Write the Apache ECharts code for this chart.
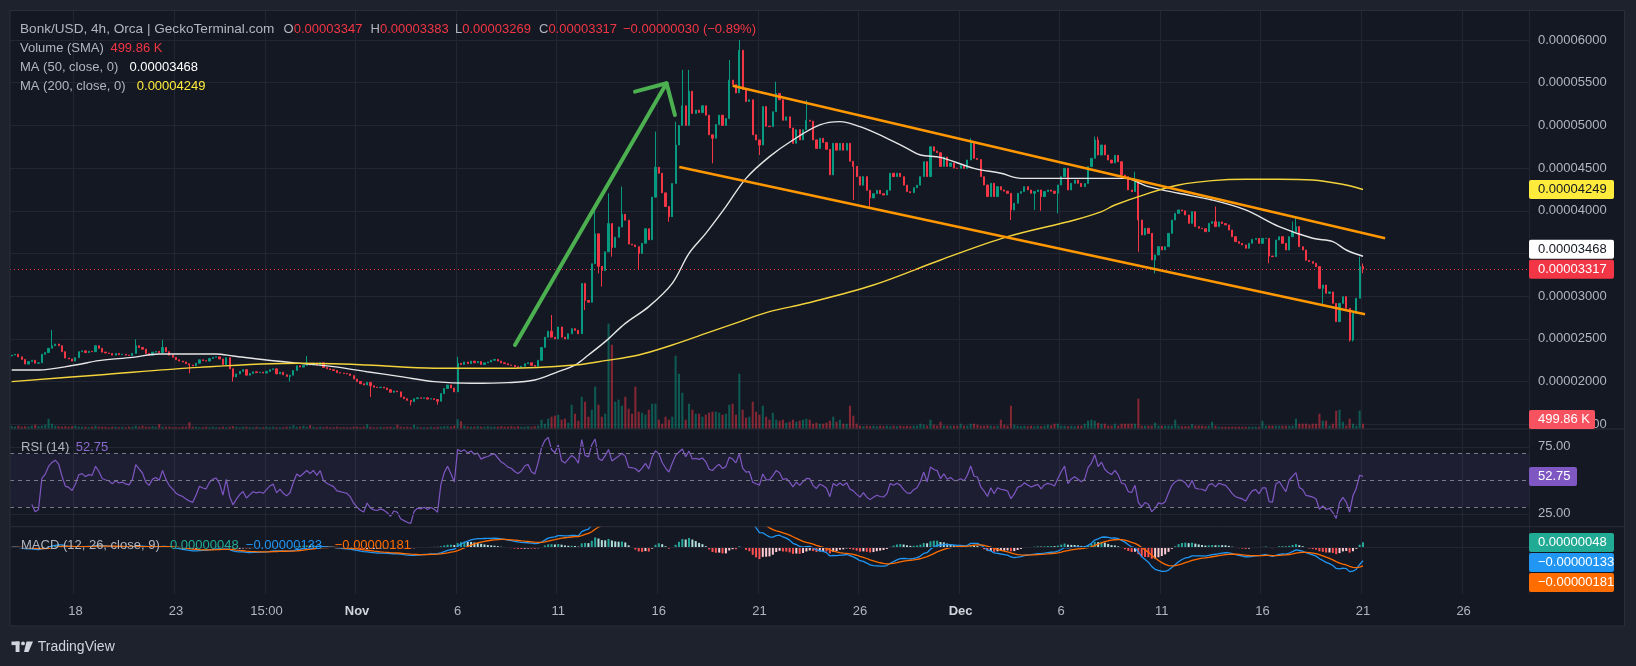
<!DOCTYPE html>
<html>
<head>
<meta charset="utf-8">
<script src="https://cdn.jsdelivr.net/npm/echarts@6/dist/echarts.min.js"></script>
<style>
html,body{margin:0;padding:0;background:#141823;}
#main{width:1636px;height:666px;}
</style>
</head>
<body>
<div id="main"></div>
<script>
// all prices in units of 1e-8 USD, one value per 4h candle
const firstOpen = 2300;
const closes = [
  2311,2320,2290,2260,2205,2235,2250,2215,2220,2320,2340,2390,2420,2440,2420,2350,2275,2265,2240,2280,
  2350,2360,2340,2355,2350,2420,2390,2345,2335,2330,2310,2330,2315,2320,2310,2305,2330,2420,2400,2380,
  2330,2310,2345,2355,2340,2400,2350,2310,2285,2255,2240,2230,2210,2195,2185,2215,2255,2245,2240,2270,
  2285,2290,2265,2200,2280,2150,2055,2090,2120,2140,2075,2095,2115,2105,2110,2100,2120,2140,2150,2090,
  2110,2080,2060,2075,2130,2185,2170,2190,2210,2195,2215,2190,2220,2165,2150,2140,2130,2105,2100,2095,
  2090,2070,2030,2000,1975,1960,1990,1950,1935,1930,1935,1925,1905,1875,1890,1880,1820,1800,1780,1765,
  1800,1810,1805,1810,1795,1800,1790,1770,1860,1920,1960,1925,1880,2215,2200,2230,2210,2240,2220,2235,
  2200,2220,2230,2250,2260,2240,2220,2210,2195,2190,2175,2165,2180,2210,2220,2190,2180,2250,2400,2520,
  2590,2520,2500,2640,2520,2500,2560,2620,2600,2560,3150,2950,2930,3380,3730,3350,3300,3520,3850,3570,
  3690,3810,3960,3890,3610,3600,3580,3500,3620,3790,3660,4160,4510,4440,4210,4050,3930,4320,4770,5000,
  5230,5000,5400,5140,5180,5150,5230,5120,4890,4850,5010,5120,5000,5080,5530,5480,5380,5880,5420,5280,
  5300,4890,4830,4770,5220,4990,4985,5160,5375,5300,5060,5100,4970,4790,4950,4830,4950,5060,5050,4830,
  4730,4850,4800,4720,4420,4790,4710,4790,4710,4790,4580,4520,4400,4300,4400,4240,4150,4200,4240,4200,
  4185,4240,4440,4400,4440,4400,4300,4224,4212,4270,4300,4400,4575,4400,4750,4700,4680,4520,4630,4520,
  4560,4500,4497,4530,4497,4595,4790,4614,4600,4400,4302,4166,4322,4166,4283,4244,4230,4205,4010,4088,
  4205,4225,4283,4244,4205,4225,4244,4166,4225,4244,4230,4205,4302,4400,4497,4244,4322,4360,4322,4283,
  4320,4517,4614,4829,4653,4770,4653,4595,4560,4650,4575,4419,4400,4244,4224,4341,3892,3717,3795,3736,
  3424,3483,3580,3541,3580,3736,3892,3970,4010,4000,3951,3853,3990,3815,3795,3790,3756,3853,3873,3815,
  3870,3850,3835,3775,3697,3639,3619,3600,3561,3619,3666,3677,3619,3677,3677,3470,3463,3658,3697,3619,
  3541,3697,3756,3815,3580,3541,3420,3405,3385,3346,3092,3131,3034,3050,2916,2702,2916,2995,2858,2487,
  2800,2975,3347,3317
];
// notable wicks: [candle index, price]
const highMarks = [[12,2605],[37,2495],[45,2490],[88,2300],[133,2292],[161,2780],[174,4010],[178,4205],
  [182,4283],[192,4927],[198,5044],[200,5650],[202,5650],[214,5766],[217,6000],[228,5512],[237,5297],
  [286,4849],[323,4870],[324,4868],[335,4458],[359,4049],[382,3873],[383,3931],[402,3463],[403,3383]];
const lowMarks = [[53,2097],[66,2000],[83,2000],[107,1820],[119,1720],[127,1730],[171,2838],[175,3268],
  [176,3112],[179,3463],[187,3307],[196,3872],[209,4556],[223,4653],[251,4127],[256,4029],[298,3892],
  [305,4010],[307,4000],[312,3970],[336,3520],[341,3268],[375,3385],[391,2897],[399,2470],[400,2470],[403,3269]];
// volume in K
const volumes = [
  250,200,300,200,250,200,300,400,250,300,400,1000,500,300,250,200,250,200,250,300,
  200,200,200,150,200,300,200,200,200,150,200,200,150,200,150,200,200,300,200,300,
  200,200,250,200,450,200,200,200,150,150,150,200,200,650,200,200,150,150,200,150,
  200,150,150,200,150,200,250,200,150,200,200,150,150,200,150,150,200,150,200,150,
  150,150,200,200,350,200,200,300,200,350,200,150,200,150,200,150,150,200,150,150,
  150,150,200,200,150,200,450,200,150,150,200,150,200,200,150,400,200,150,200,150,
  400,200,150,150,150,200,150,200,200,250,250,200,300,950,750,300,200,200,200,250,
  200,200,250,200,200,200,250,200,200,250,200,250,200,200,250,200,250,300,900,500,
  1000,1200,1300,1400,900,1000,600,2400,1500,800,3200,2700,1200,1900,4200,2400,1200,1500,10500,8400,
  2700,2900,2300,3200,2000,1500,4200,1700,1600,1400,1900,2500,2500,900,500,1200,900,1200,7300,5500,
  3600,900,2500,1900,1500,1500,1200,1400,1600,1700,1700,1600,1400,1500,2400,2500,1400,5500,1900,1100,
  1200,2700,1700,1400,2300,1200,900,1600,900,800,900,600,700,900,700,800,900,1000,900,500,
  600,500,500,600,800,1200,700,900,500,500,2300,1300,500,300,250,300,250,300,250,300,
  250,300,250,300,250,300,250,300,250,300,300,500,400,300,900,400,300,700,300,300,
  300,300,300,500,300,300,500,500,400,300,300,350,300,250,300,900,400,300,2300,400,
  300,250,300,250,300,250,300,250,300,400,350,500,500,300,300,250,300,250,300,300,
  500,800,900,800,600,500,500,300,300,500,300,500,500,500,500,500,3000,300,300,300,
  300,600,300,300,300,300,300,900,300,250,250,250,450,300,300,300,250,300,700,300,
  200,200,200,200,200,200,200,200,200,200,200,200,200,800,300,300,300,300,300,300,
  300,300,300,1000,500,500,500,400,500,500,1500,800,800,300,500,1800,1900,700,300,1000,
  500,300,1800,500
];
// moving averages: candle index and value
const ma50Idx = [0,8,19,26,36,44,61,66,76,86,96,106,116,126,137,148,156,163,168,172,177,183,190,197,202,207,213,219,226,233,241,247,253,260,267,271,277,287,295,301,312,319,332,339,348,358,368,378,388,394,398,403];
const ma50Val = [2136,2136,2194,2245,2284,2323,2323,2300,2253,2214,2175,2116,2058,2000,1980,1988,2019,2117,2194,2312,2468,2682,2878,3151,3502,3736,4049,4380,4634,4829,5005,5044,4985,4868,4731,4653,4626,4497,4439,4380,4380,4380,4380,4283,4205,4127,4010,3814,3678,3639,3541,3468];
const ma200Idx = [0,26,56,86,106,126,148,168,177,187,197,207,217,226,237,257,277,297,317,325,329,339,348,358,368,378,388,398,403];
const ma200Val = [2000,2078,2167,2214,2194,2156,2156,2194,2245,2312,2429,2565,2700,2819,2917,3131,3424,3697,3892,3990,4068,4205,4302,4353,4369,4369,4361,4302,4249];
// user drawings: [candle index, price]
const channelTop = [[215.0,5465],[409.6,3678]];
const channelBottom = [[199.1,4513],[403.6,2788]];
const arrowShaft = [[150.1,2428],[195.3,5493]];
const arrowHead = [[185.9,5395],[195.3,5493],[197.8,5122]];
// time axis
const tickIdx = [19,49,76,103,133,163,193,223,253,283,313,343,373,403,433];
const tickText = ['18','23','15:00','Nov','6','11','16','21','26','Dec','6','11','16','21','26'];
const slotCount = 453;
// legend values from the chart header
const lastVolSma = 499.86;
const lastRsi = 52.75;
const lastMacd = [48, -133, -181];

const FONT = '"Liberation Sans", Arial, sans-serif';
const gridColor = '#232632';
const textGrey = '#b2b5be';
const upColor = '#089981', downColor = '#f23645';
const L = 10, R = 107;

const cats = [];
for (let i = 0; i < slotCount; i++) cats.push(String(i));
const opens = closes.map((c, i) => i === 0 ? firstOpen : closes[i - 1]);
const highs = closes.map((c, i) => Math.max(c, opens[i]));
const lows = closes.map((c, i) => Math.min(c, opens[i]));
highMarks.forEach(([i, v]) => { highs[i] = Math.max(highs[i], v); });
lowMarks.forEach(([i, v]) => { lows[i] = Math.min(lows[i], v); });
const candles = closes.map((c, i) => [opens[i], c, lows[i], highs[i]]);
const volData = volumes.map((v, i) => ({
  value: v,
  itemStyle: { color: closes[i] >= opens[i] ? 'rgba(8,153,129,0.5)' : 'rgba(242,54,69,0.5)' }
}));

function rsi(src, n) {
  const out = [];
  let ag = 0, al = 0;
  for (let i = 0; i < src.length; i++) {
    if (i === 0) { out.push(null); continue; }
    const d = src[i] - src[i - 1];
    const k = Math.min(i, n);
    ag = (ag * (k - 1) + Math.max(d, 0)) / k;
    al = (al * (k - 1) + Math.max(-d, 0)) / k;
    out.push(i < 6 ? null : (al === 0 ? 100 : 100 - 100 / (1 + ag / al)));
  }
  return out;
}
function ema(src, n) {
  const k = 2 / (n + 1);
  let e = src[0];
  return src.map((v, i) => (e = i === 0 ? v : v * k + e * (1 - k)));
}
const rsiData = rsi(closes, 14);
const e12 = ema(closes, 12), e26 = ema(closes, 26);
const macd = e12.map((v, i) => v - e26[i]);
const signal = ema(macd, 9);
const hist = macd.map((v, i) => v - signal[i]);
const histData = hist.map((h, i) => {
  const p = i > 0 ? hist[i - 1] : h;
  let c;
  if (h >= 0) c = p < h ? '#26a69a' : '#b2dfdb';
  else c = p < h ? '#ffcdd2' : '#ff5252';
  return { value: h, itemStyle: { color: c } };
});

const pairs = (idx, val) => idx.map((x, i) => [x, val[i]]);
const fmtPrice = v => (v / 1e8).toFixed(8);

const hiddenCat = g => ({ type: 'category', gridIndex: g, data: cats, show: false, boundaryGap: true });

const option = {
  backgroundColor: '#141823',
  animation: false,
  grid: [
    { left: L, right: R, top: 40, height: 384.3, outerBoundsMode: 'none' },
    { left: L, right: R, top: 228.7, height: 200, outerBoundsMode: 'none' },
    { left: L, right: R, top: 413.3, height: 134, outerBoundsMode: 'none' },
    { left: L, right: R, top: 526.7, height: 67.6, outerBoundsMode: 'none' },
    { left: L, right: R, top: 10.7, height: 583.6, outerBoundsMode: 'none' }
  ],
  xAxis: [
    hiddenCat(0),
    { type: 'value', gridIndex: 0, min: -0.5, max: slotCount - 0.5, show: false },
    hiddenCat(1),
    hiddenCat(2),
    hiddenCat(3),
    {
      type: 'category', gridIndex: 4, data: cats, boundaryGap: true,
      axisLine: { show: false }, axisTick: { show: false },
      splitLine: { show: true, interval: idx => tickIdx.includes(idx), lineStyle: { color: gridColor, width: 1 } },
      axisLabel: {
        interval: idx => tickIdx.includes(idx),
        margin: 11, color: textGrey, fontSize: 13, fontFamily: FONT,
        formatter: (v, idx) => {
          const t = tickText[tickIdx.indexOf(Number(v))];
          return (t === 'Nov' || t === 'Dec') ? '{m|' + t + '}' : t;
        },
        rich: { m: { fontWeight: 'bold', color: '#d1d4dc', fontSize: 13, fontFamily: FONT } }
      }
    }
  ],
  yAxis: [
    {
      type: 'value', gridIndex: 0, position: 'right', min: 1500, max: 6000, interval: 500,
      axisLine: { show: false }, axisTick: { show: false },
      splitLine: { lineStyle: { color: gridColor, width: 1 } },
      axisLabel: { margin: 9, color: textGrey, fontSize: 13, fontFamily: FONT, formatter: fmtPrice }
    },
    { type: 'value', gridIndex: 1, min: 0, max: 20000, show: false },
    {
      type: 'value', gridIndex: 2, position: 'right', min: 0, max: 100, interval: 25,
      axisLine: { show: false }, axisTick: { show: false }, splitLine: { show: false },
      axisLabel: { margin: 9, color: textGrey, fontSize: 13, fontFamily: FONT,
        formatter: v => (v === 25 || v === 75) ? v.toFixed(2) : '' }
    },
    { type: 'value', gridIndex: 3, min: -470, max: 206, show: false },
    { type: 'value', gridIndex: 4, show: false }
  ],
  series: [
    {
      name: 'volume', type: 'bar', xAxisIndex: 2, yAxisIndex: 1, data: volData,
      barWidth: '62%', z: 1
    },
    {
      name: 'price', type: 'candlestick', xAxisIndex: 0, yAxisIndex: 0, data: candles,
      barWidth: 1.7, z: 3,
      itemStyle: { color: upColor, color0: downColor, borderColor: upColor, borderColor0: downColor, borderWidth: 1 },
      markLine: {
        silent: true, symbol: ['none', 'none'], label: { show: false },
        lineStyle: { color: downColor, type: [1, 3], width: 1 },
        data: [{ yAxis: closes[closes.length - 1] }]
      }
    },
    {
      name: 'MA50', type: 'line', xAxisIndex: 1, yAxisIndex: 0, data: pairs(ma50Idx, ma50Val),
      smooth: 0.35, symbol: 'none', z: 4, lineStyle: { color: '#e6e6e6', width: 1.4 }
    },
    {
      name: 'MA200', type: 'line', xAxisIndex: 1, yAxisIndex: 0, data: pairs(ma200Idx, ma200Val),
      smooth: 0.35, symbol: 'none', z: 4, lineStyle: { color: '#f3d33b', width: 1.4 }
    },
    {
      type: 'line', xAxisIndex: 1, yAxisIndex: 0, data: channelTop, symbol: 'none', z: 6,
      lineStyle: { color: '#ff9800', width: 2.5 }
    },
    {
      type: 'line', xAxisIndex: 1, yAxisIndex: 0, data: channelBottom, symbol: 'none', z: 6,
      lineStyle: { color: '#ff9800', width: 2.5 }
    },
    {
      type: 'line', xAxisIndex: 1, yAxisIndex: 0, data: arrowShaft, symbol: 'none', z: 6,
      lineStyle: { color: '#4caf50', width: 4, cap: 'round' }
    },
    {
      type: 'line', xAxisIndex: 1, yAxisIndex: 0, data: arrowHead, symbol: 'none', z: 6,
      lineStyle: { color: '#4caf50', width: 4, cap: 'round', join: 'round' }
    },
    {
      name: 'RSI', type: 'line', xAxisIndex: 3, yAxisIndex: 2, data: rsiData, symbol: 'none', z: 3,
      lineStyle: { color: '#7e57c2', width: 1.2 },
      markArea: { silent: true, itemStyle: { color: 'rgba(126,87,194,0.1)' }, data: [[{ yAxis: 30 }, { yAxis: 70 }]] },
      markLine: {
        silent: true, symbol: ['none', 'none'], label: { show: false },
        data: [
          { yAxis: 75, lineStyle: { color: gridColor, type: 'solid', width: 1 } },
          { yAxis: 25, lineStyle: { color: gridColor, type: 'solid', width: 1 } },
          { yAxis: 70, lineStyle: { color: '#787b86', type: [4, 4], width: 1 } },
          { yAxis: 50, lineStyle: { color: '#787b86', type: [4, 4], width: 1 } },
          { yAxis: 30, lineStyle: { color: '#787b86', type: [4, 4], width: 1 } }
        ]
      }
    },
    {
      name: 'hist', type: 'bar', xAxisIndex: 4, yAxisIndex: 3, data: histData, barWidth: 2, z: 2,
      markLine: {
        silent: true, symbol: ['none', 'none'], label: { show: false },
        lineStyle: { color: gridColor, type: 'solid', width: 1 }, data: [{ yAxis: 0 }]
      }
    },
    {
      name: 'MACD', type: 'line', xAxisIndex: 4, yAxisIndex: 3, data: macd, symbol: 'none', z: 3,
      lineStyle: { color: '#2196f3', width: 1.3 }
    },
    {
      name: 'Signal', type: 'line', xAxisIndex: 4, yAxisIndex: 3, data: signal, symbol: 'none', z: 3,
      lineStyle: { color: '#ff6d00', width: 1.3 }
    }
  ]
};

const chart = echarts.init(document.getElementById('main'));
chart.setOption(option);

// overlay: frame, legends, badges
const txt = (x, y, text, fill, size, weight) => ({
  type: 'text', x, y, z: 100,
  style: { text, fill, font: (weight || 'normal') + ' ' + (size || 13) + 'px ' + FONT, verticalAlign: 'middle', align: 'left' }
});
const badge = (x, yc, w, bg, fg, text) => ({
  type: 'group', z: 100, children: [
    { type: 'rect', z: 100, shape: { x, y: yc - 9.5, width: w, height: 19, r: 2 }, style: { fill: bg } },
    { type: 'text', z: 101, x: x + 9, y: yc, style: { text, fill: fg, font: '13px ' + FONT, verticalAlign: 'middle', align: 'left' } }
  ]
});
const px = (axis, v) => chart.convertToPixel(axis, v);
const lastClose = closes[closes.length - 1];
const yRed = px({ yAxisIndex: 0 }, lastClose);
const yWhite = Math.min(px({ yAxisIndex: 0 }, ma50Val[ma50Val.length - 1]), yRed - 20);
const yYellow = px({ yAxisIndex: 0 }, ma200Val[ma200Val.length - 1]);
const yVol = Math.min(px({ yAxisIndex: 1 }, lastVolSma), 419.5);
const yRsi = px({ yAxisIndex: 2 }, lastRsi);
const macdY = [];
lastMacd.forEach((v, i) => {
  const y = px({ yAxisIndex: 3 }, v);
  macdY.push(i === 0 ? y : Math.max(y, macdY[i - 1] + 20));
});
const rich = (parts) => parts.map(p => '{' + p[0] + '|' + p[1] + '}').join('');
const richStyles = {
  g: { fill: textGrey, font: '13px ' + FONT },
  r: { fill: '#f23645', font: '13px ' + FONT }
};
const ohlc = (x, letter, val) => ({
  type: 'text', x, y: 29, z: 100,
  style: { text: rich([['g', letter], ['r', val]]), rich: richStyles, verticalAlign: 'middle', align: 'left' }
});
const axisX = chart.getWidth() - R;

chart.setOption({
  graphic: [
    { type: 'rect', z: 90, shape: { x: 0, y: 0, width: 1636, height: 10.5 }, style: { fill: '#1e222d' } },
    { type: 'rect', z: 90, shape: { x: 0, y: 0, width: 10, height: 666 }, style: { fill: '#1e222d' } },
    { type: 'rect', z: 90, shape: { x: 1624.5, y: 0, width: 12, height: 666 }, style: { fill: '#1e222d' } },
    { type: 'rect', z: 90, shape: { x: 0, y: 626, width: 1636, height: 40 }, style: { fill: '#1e222d' } },
    { type: 'rect', z: 91, shape: { x: 10, y: 10.5, width: 1614.5, height: 615.5 }, style: { fill: 'none', stroke: '#2a2e39', lineWidth: 1 } },
    { type: 'line', z: 91, shape: { x1: 10, y1: 429, x2: 1624, y2: 429 }, style: { stroke: '#2a2e39', lineWidth: 1 } },
    { type: 'line', z: 91, shape: { x1: 10, y1: 526.7, x2: 1624, y2: 526.7 }, style: { stroke: '#2a2e39', lineWidth: 1 } },

    txt(20, 29, 'Bonk/USD, 4h, Orca | GeckoTerminal.com', textGrey, 13.6),
    ohlc(283.6, 'O', '0.00003347'),
    ohlc(370.6, 'H', '0.00003383'),
    ohlc(455, 'L', '0.00003269'),
    ohlc(539, 'C', '0.00003317'),
    txt(623, 29, '−0.00000030 (−0.89%)', '#f23645'),
    txt(20, 48, 'Volume (SMA)', textGrey),
    txt(110.4, 48, '499.86 K', '#f23645'),
    txt(20, 67, 'MA (50, close, 0)', textGrey),
    txt(129.4, 67, fmtPrice(ma50Val[ma50Val.length - 1]), '#ffffff'),
    txt(20, 86, 'MA (200, close, 0)', textGrey),
    txt(136.8, 86, fmtPrice(ma200Val[ma200Val.length - 1]), '#ffeb3b'),

    txt(21, 447.3, 'RSI (14)', textGrey),
    txt(75.8, 447.3, lastRsi.toFixed(2), '#8c6bd1'),
    txt(21, 545, 'MACD (12, 26, close, 9)', textGrey),
    txt(170, 545, '0.00000048', '#22ab94'),
    txt(245.8, 545, '−0.00000133', '#2196f3'),
    txt(334.7, 545, '−0.00000181', '#ff6d00'),

    badge(axisX, yYellow, 85, '#ffeb3b', '#131722', fmtPrice(ma200Val[ma200Val.length - 1])),
    badge(axisX, yWhite, 85, '#ffffff', '#131722', fmtPrice(ma50Val[ma50Val.length - 1])),
    badge(axisX, yRed, 85, '#f23645', '#ffffff', fmtPrice(lastClose)),
    badge(axisX, yVol, 66, '#f7525f', '#ffffff', '499.86 K'),
    badge(axisX, yRsi, 48, '#7e57c2', '#ffffff', lastRsi.toFixed(2)),
    badge(axisX, macdY[0], 85, '#22ab94', '#ffffff', '0.00000048'),
    badge(axisX, macdY[1], 85, '#2196f3', '#ffffff', '−0.00000133'),
    badge(axisX, macdY[2], 85, '#ff6d00', '#ffffff', '−0.00000181'),

    { type: 'rect', z: 100, shape: { x: 11.5, y: 641.5, width: 8, height: 3.6 }, style: { fill: '#d1d4dc' } },
    { type: 'rect', z: 100, shape: { x: 15.6, y: 641.5, width: 3.9, height: 10.5 }, style: { fill: '#d1d4dc' } },
    { type: 'circle', z: 100, shape: { cx: 23, cy: 643.4, r: 1.9 }, style: { fill: '#d1d4dc' } },
    { type: 'polygon', z: 100, shape: { points: [[26.5, 641.5], [33, 641.5], [28.5, 652], [24, 652]] }, style: { fill: '#d1d4dc' } },
    txt(37.7, 646.7, 'TradingView', '#d1d4dc', 14)
  ]
});
</script>
</body>
</html>
